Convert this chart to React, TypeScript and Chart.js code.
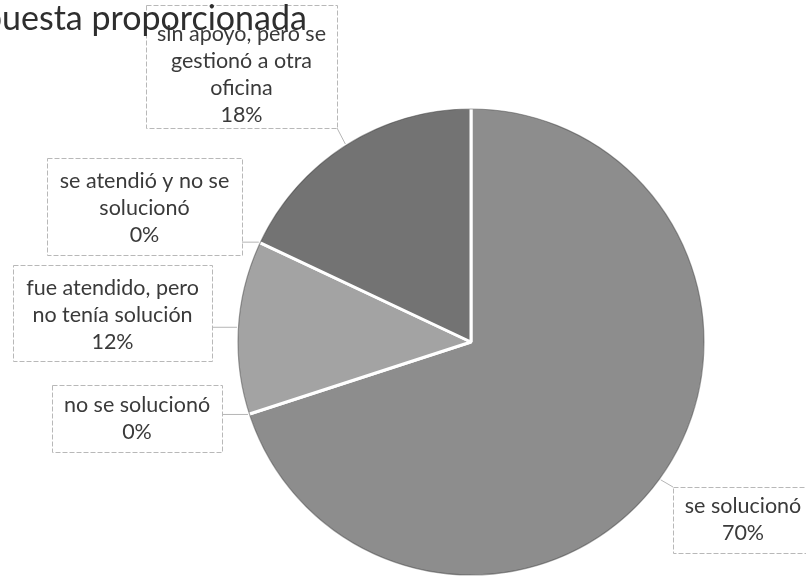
import React, { useEffect, useRef } from "react";
import { Chart, registerables } from "chart.js";

Chart.register(...registerables);

// ---- Data ----
const titleText = "Respuesta proporcionada";
const categories: string[][] = [
  ["se solucionó"],
  ["no se solucionó"],
  ["fue atendido, pero", "no tenía solución"],
  ["se atendió y no se", "solucionó"],
  ["sin apoyo, pero se", "gestionó a otra", "oficina"],
];
const values: number[] = [70, 0, 12, 0, 18];
const sliceColors: string[] = ["#8d8d8d", "#8d8d8d", "#a3a3a3", "#9a9a9a", "#737373"];

// ---- Label box layout (pixels) ----
const labelBoxes = [
  { x: 673, y: 487, w: 140, h: 66, dy: 0 },
  { x: 52, y: 385, w: 170, h: 67, dy: 0 },
  { x: 13, y: 265, w: 199, h: 96, dy: 2 },
  { x: 47, y: 158, w: 195, h: 97, dy: 2 },
  { x: 146, y: 5, w: 191, h: 123, dy: 8 },
];

const labelPlugin = {
  id: "calloutLabels",
  afterDatasetsDraw(chart: any) {
    const ctx: CanvasRenderingContext2D = chart.ctx;
    const meta = chart.getDatasetMeta(0);
    const data = chart.data.datasets[0].data as number[];
    const total = data.reduce((a, b) => a + b, 0);
    ctx.save();
    // subtle dark outline around the pie (scan look)
    const a0 = meta.data[0].getProps(["x", "y", "outerRadius"], true);
    ctx.strokeStyle = "rgba(60,60,60,0.45)";
    ctx.lineWidth = 1.2;
    ctx.beginPath();
    ctx.arc(a0.x, a0.y, a0.outerRadius - 1.5, 0, Math.PI * 2);
    ctx.stroke();
    meta.data.forEach((arc: any, i: number) => {
      const p = arc.getProps(["x", "y", "startAngle", "endAngle", "outerRadius"], true);
      const mid = (p.startAngle + p.endAngle) / 2;
      const ax = p.x + Math.cos(mid) * p.outerRadius;
      const ay = p.y + Math.sin(mid) * p.outerRadius;
      const b = labelBoxes[i];
      // leader line
      const lx = Math.min(Math.max(ax, b.x), b.x + b.w);
      const ly = Math.min(Math.max(ay, b.y), b.y + b.h);
      ctx.strokeStyle = "#b5b5b5";
      ctx.lineWidth = 1;
      ctx.beginPath();
      ctx.moveTo(lx, ly);
      ctx.lineTo(ax, ay);
      ctx.stroke();
      // box
      ctx.fillStyle = "rgba(255,255,255,0.85)";
      ctx.fillRect(b.x, b.y, b.w, b.h);
      ctx.strokeStyle = "#b8b8b8";
      ctx.setLineDash([5, 2]);
      ctx.strokeRect(b.x + 0.5, b.y + 0.5, b.w, b.h);
      ctx.setLineDash([]);
      // text
      const pct = Math.round((data[i] / total) * 100) + "%";
      const lines = [...categories[i], pct];
      const lh = 27;
      ctx.font = "21.5px Lato, 'Liberation Sans', sans-serif";
      ctx.fillStyle = "#3a3a3a";
      ctx.textAlign = "center";
      ctx.textBaseline = "middle";
      const cx = b.x + b.w / 2;
      const cy = b.y + b.h / 2 + b.dy;
      const startY = cy - ((lines.length - 1) * lh) / 2;
      lines.forEach((t, k) => ctx.fillText(t, cx, startY + k * lh));
    });
    // title (cut off at left edge)
    ctx.font = "34px Lato, 'Liberation Sans', sans-serif";
    ctx.fillStyle = "#2e2e2e";
    ctx.textAlign = "left";
    ctx.textBaseline = "alphabetic";
    const cutW = ctx.measureText("Resp").width;
    ctx.fillText(titleText, 2 - cutW, 30);
    ctx.restore();
  },
};

export default function App() {
  const ref = useRef<HTMLCanvasElement>(null);
  useEffect(() => {
    document.body.style.margin = "0";
    const chart = new Chart(ref.current as HTMLCanvasElement, {
      type: "pie",
      data: {
        labels: categories.map((c) => c.join(" ")),
        datasets: [
          {
            data: values,
            backgroundColor: sliceColors,
            borderColor: "#ffffff",
            borderWidth: 3,
          },
        ],
      },
      options: {
        responsive: false,
        animation: false,
        layout: { padding: { left: 235, right: 99, top: 106, bottom: 4 } },
        plugins: {
          legend: { display: false },
          tooltip: { enabled: false },
          title: { display: false },
        },
      },
      plugins: [labelPlugin],
    });
    return () => chart.destroy();
  }, []);
  return (
    <div style={{ position: "absolute", left: 0, top: 0, width: 806, height: 582, background: "#fff" }}>
      <canvas ref={ref} width={806} height={582} style={{ display: "block" }} />
    </div>
  );
}
